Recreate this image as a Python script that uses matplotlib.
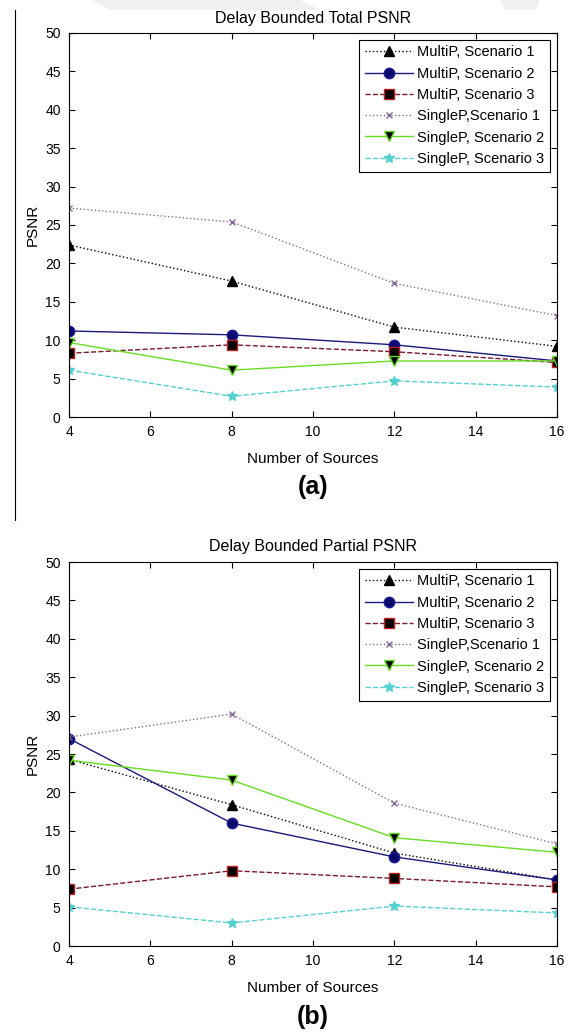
import matplotlib
matplotlib.use("Agg")
import matplotlib.pyplot as plt
from matplotlib.lines import Line2D
from matplotlib.patches import Polygon

plt.rcParams["font.family"] = ["Liberation Sans", "DejaVu Sans"]

sources = [4, 8, 12, 16]

labels = [
    "MultiP, Scenario 1",
    "MultiP, Scenario 2",
    "MultiP, Scenario 3",
    "SingleP,Scenario 1",
    "SingleP, Scenario 2",
    "SingleP, Scenario 3",
]

# (a) Delay Bounded Total PSNR
total_multi_s1 = [22.4, 17.7, 11.7, 9.2]
total_multi_s2 = [11.2, 10.7, 9.4, 7.3]
total_multi_s3 = [8.3, 9.4, 8.5, 7.1]
total_single_s1 = [27.2, 25.4, 17.4, 13.2]
total_single_s2 = [9.7, 6.1, 7.3, 7.3]
total_single_s3 = [6.1, 2.7, 4.7, 3.9]

# (b) Delay Bounded Partial PSNR
partial_multi_s1 = [24.3, 18.4, 12.1, 8.6]
partial_multi_s2 = [27.0, 16.0, 11.6, 8.6]
partial_multi_s3 = [7.4, 9.8, 8.8, 7.7]
partial_single_s1 = [27.2, 30.2, 18.6, 13.3]
partial_single_s2 = [24.2, 21.6, 14.1, 12.2]
partial_single_s3 = [5.1, 3.0, 5.2, 4.3]

styles = [
    dict(color="black", ls=":", marker="^", mfc="black", mec="black", ms=7.5),
    dict(color="#1a1a7a", ls="-", marker="o", mfc="#0a0a6a", mec="#1a1a9a", ms=7.5),
    dict(color="#7a1a2a", ls="--", marker="s", mfc="black", mec="#c02020", ms=7.5),
    dict(color="#8a6a9a", ls=":", marker="x", mfc="#8a6a9a", mec="#8a6a9a", ms=5),
    dict(color="#66dd22", ls="-", marker="v", mfc="black", mec="#66dd22", ms=7.5),
    dict(color="#55d0d0", ls="--", marker="*", mfc="#55d0d0", mec="#55d0d0", ms=7.5),
]

W, H = 574, 1033


def fx(px):
    return px / W


def fy(py):
    return 1 - py / H


def draw_panel(ax, series):
    for ys, lab, st in zip(series, labels, styles):
        ax.plot(sources, ys, label=lab, lw=1.0, **st)
    ax.set_xlim(4, 16)
    ax.set_ylim(0, 50)
    ax.set_xticks(range(4, 17, 2))
    ax.set_yticks(range(0, 51, 5))
    ax.tick_params(direction="in", top=True, right=True, labelsize=10, length=4, pad=6)
    ax.set_ylabel("PSNR", fontsize=11, labelpad=4)
    leg = ax.legend(loc="upper right", fontsize=10.5, fancybox=False, framealpha=1,
                    edgecolor="black", handlelength=3.3, borderaxespad=0.45,
                    labelspacing=0.5, handletextpad=0.3, borderpad=0.4)
    leg.get_frame().set_linewidth(0.8)


fig = plt.figure(figsize=(W / 100, H / 100), dpi=100)

# faint watermark shapes at the top of the page
fig.add_artist(Polygon([(fx(92), fy(0)), (fx(300), fy(0)), (fx(320), fy(10)), (fx(110), fy(10))],
                       closed=True, transform=fig.transFigure, color="#f0f0f0", lw=0))
fig.add_artist(Polygon([(fx(500), fy(0)), (fx(540), fy(0)), (fx(536), fy(10)), (fx(505), fy(10))],
                       closed=True, transform=fig.transFigure, color="#f0f0f0", lw=0))

ax1 = fig.add_axes([fx(69), fy(417), fx(557) - fx(69), fy(33) - fy(417)])
draw_panel(ax1, [total_multi_s1, total_multi_s2, total_multi_s3,
                 total_single_s1, total_single_s2, total_single_s3])

ax2 = fig.add_axes([fx(69), fy(946), fx(557) - fx(69), fy(562) - fy(946)])
draw_panel(ax2, [partial_multi_s1, partial_multi_s2, partial_multi_s3,
                 partial_single_s1, partial_single_s2, partial_single_s3])

cx = fx(313)
fig.text(cx, fy(18), "Delay Bounded Total PSNR", ha="center", va="center", fontsize=11.5)
fig.text(cx, fy(459), "Number of Sources", ha="center", va="center", fontsize=11)
fig.text(cx, fy(487), "(a)", ha="center", va="center", fontsize=18, fontweight="bold")

fig.text(cx, fy(547), "Delay Bounded Partial PSNR", ha="center", va="center", fontsize=11.5)
fig.text(cx, fy(988), "Number of Sources", ha="center", va="center", fontsize=11)
fig.text(cx, fy(1017), "(b)", ha="center", va="center", fontsize=18, fontweight="bold")

# stray border line at the left of panel (a)
fig.add_artist(Line2D([fx(15), fx(15)], [fy(10), fy(520)],
                      transform=fig.transFigure, color="black", lw=0.8))

fig.savefig("out.png", dpi=100)
